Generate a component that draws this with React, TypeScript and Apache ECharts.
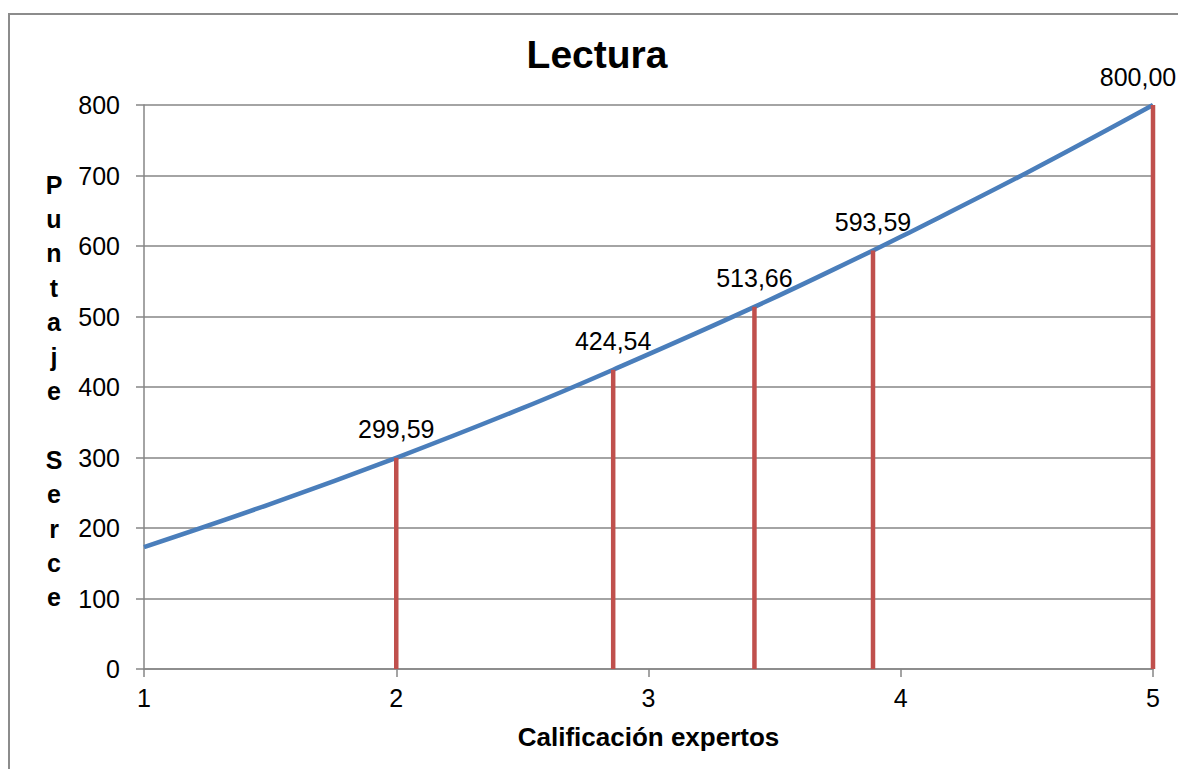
import React, { useEffect, useRef } from "react";
import * as echarts from "echarts";

const titleText = "Lectura";
const xAxisName = "Calificación expertos";
const yAxisName = "Puntaje Serce";

// Curve (x = calificación, y = puntaje)
const curveX = [1, 1.5, 2, 2.5, 2.86, 3.42, 3.89, 4, 4.5, 5];
const curveY = [173, 234, 299.59, 370, 424.54, 513.66, 593.59, 613, 704, 800];

// Vertical red markers with their labels
const markX = [2, 2.86, 3.42, 3.89, 5];
const markY = [299.59, 424.54, 513.66, 593.59, 800];

const FONT = "'Liberation Sans', Arial, sans-serif";

export default function App() {
  const ref = useRef<HTMLDivElement>(null);
  useEffect(() => {
    if (!ref.current) return;
    const chart = echarts.init(ref.current, null, { renderer: "svg" });
    const curveData = curveX.map((x, i) => [x, curveY[i]]);
    const markData = markX.map((x, i) => [x, markY[i]]);
    const fmt = (v: number) => v.toFixed(2).replace(".", ",");
    chart.setOption({
      animation: false,
      backgroundColor: "#ffffff",
      textStyle: { fontFamily: FONT },
      grid: { left: 144, top: 105, right: 25, bottom: 100, containLabel: false },
      xAxis: {
        type: "value",
        min: 1,
        max: 5,
        interval: 1,
        name: xAxisName,
        nameLocation: "middle",
        nameGap: 55,
        nameTextStyle: { fontFamily: FONT, fontSize: 26, fontWeight: "bold", color: "#000" },
        axisLine: { show: true, lineStyle: { color: "#868686", width: 1.5 } },
        axisTick: { show: true, inside: false, length: 8, lineStyle: { color: "#868686", width: 1.5 } },
        axisLabel: { fontFamily: FONT, fontSize: 25, color: "#000", margin: 16 },
        splitLine: { show: false },
      },
      yAxis: {
        type: "value",
        min: 0,
        max: 800,
        interval: 100,
        axisLine: { show: true, lineStyle: { color: "#868686", width: 1.5 } },
        axisTick: { show: true, inside: false, length: 8, lineStyle: { color: "#868686", width: 1.5 } },
        axisLabel: { fontFamily: FONT, fontSize: 25, color: "#000", margin: 24 },
        splitLine: { show: true, lineStyle: { color: "#868686", width: 1.5 } },
      },
      graphic: [
        {
          type: "rect",
          shape: { x: 9, y: 14, width: 1300, height: 900 },
          style: { fill: "none", stroke: "#8c8c8c", lineWidth: 2 },
          silent: true,
          z: -1,
        },
        {
          type: "text",
          x: 597,
          y: 54,
          style: {
            text: titleText,
            font: `bold 39px ${FONT}`,
            fill: "#000",
            textAlign: "center",
            textVerticalAlign: "middle",
          },
        },
        {
          type: "text",
          x: 54,
          y: 391,
          style: {
            text: yAxisName.split("").join("\n"),
            font: `bold 25px ${FONT}`,
            fill: "#000",
            textAlign: "center",
            textVerticalAlign: "middle",
            lineHeight: 34.4,
          },
        },
      ],
      series: [
        {
          type: "line",
          name: "curva",
          data: curveData,
          smooth: 0.4,
          showSymbol: false,
          symbol: "none",
          lineStyle: { color: "#4A7EBB", width: 4.5 },
          z: 2,
        },
        {
          type: "custom",
          name: "marcas",
          data: markData,
          z: 3,
          renderItem: (params: any, api: any) => {
            const top = api.coord([api.value(0), api.value(1)]);
            const bot = api.coord([api.value(0), 0]);
            const last = params.dataIndex === markData.length - 1;
            return {
              type: "group",
              children: [
                {
                  type: "line",
                  shape: { x1: top[0], y1: top[1], x2: bot[0], y2: bot[1] },
                  style: { stroke: "#C0504D", lineWidth: 4.5 },
                },
                {
                  type: "text",
                  x: top[0] + (last ? -15 : 0),
                  y: top[1] - 16,
                  style: {
                    text: fmt(api.value(1)),
                    font: `25px ${FONT}`,
                    fill: "#000000",
                    textAlign: "center",
                    textVerticalAlign: "bottom",
                  },
                },
              ],
            };
          },
        },
      ],
    });
    return () => chart.dispose();
  }, []);
  return (
    <div
      ref={ref}
      style={{ position: "absolute", left: 0, top: 0, width: 1178, height: 769 }}
    />
  );
}
